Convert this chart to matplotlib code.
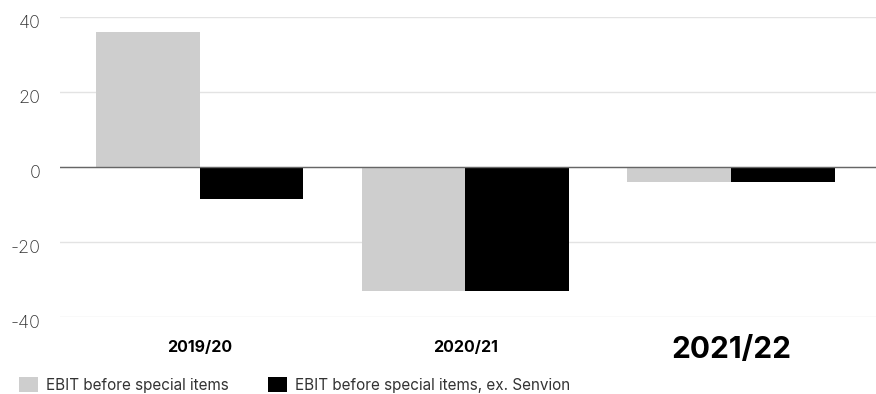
import matplotlib
matplotlib.use("Agg")
import matplotlib.pyplot as plt
import matplotlib.transforms as mtransforms
from matplotlib.patches import Patch
import numpy as np

categories = ["2019/20", "2020/21", "2021/22"]
ebit = [36.0, -33.0, -3.9]
ebit_ex_senvion = [-8.4, -33.0, -3.9]
series_labels = ["EBIT before special items", "EBIT before special items, ex. Senvion"]
yticks = [-40, -20, 0, 20, 40]

plt.rcParams['font.family'] = ['Inter', 'DejaVu Sans']

W, H = 876, 394
fig = plt.figure(figsize=(W / 100, H / 100), dpi=100)
ax = fig.add_axes([60 / W, 1 - 317 / H, 816 / W, 300 / H])

x = np.arange(len(categories))
bw = 0.39
ax.bar(x - bw / 2, ebit, width=bw, color="#cecece", zorder=2)
ax.bar(x + bw / 2, ebit_ex_senvion, width=bw, color="#000000", zorder=2)

ax.set_xlim(-0.527, 2.546)
ax.set_ylim(-40, 40)
ax.set_yticks(yticks)
ax.set_yticklabels([str(v) for v in yticks], fontsize=13, color="#333333", fontweight="light")
ax.tick_params(axis="y", length=0, pad=14)
offset = mtransforms.ScaledTranslation(0, -0.04, fig.dpi_scale_trans)
for lab in ax.get_yticklabels():
    lab.set_transform(lab.get_transform() + offset)
ax.grid(axis="y", color="#e3e3e3", linewidth=1, zorder=0)
ax.axhline(0, color="#666666", linewidth=1, zorder=3)
for s in ax.spines.values():
    s.set_visible(False)

ax.set_xticks(x)
ax.set_xticklabels(categories)
ax.tick_params(axis="x", length=0, pad=14)
for i, lab in enumerate(ax.get_xticklabels()):
    lab.set_fontweight("bold")
    lab.set_color("#000000")
    lab.set_fontsize(21.5 if i == 2 else 11.5)
    if i != 2:
        lab.set_y(-0.012)

handles = [Patch(facecolor="#cecece"), Patch(facecolor="#000000")]
fig.legend(handles, series_labels, ncol=2, loc="lower left",
           bbox_to_anchor=(10 / W, -0.02), frameon=False, fontsize=11,
           handlelength=1.2, handleheight=1.2, handletextpad=0.55,
           columnspacing=2.6, labelcolor="#333333", borderaxespad=0.2)

fig.savefig("out.png", dpi=100)
